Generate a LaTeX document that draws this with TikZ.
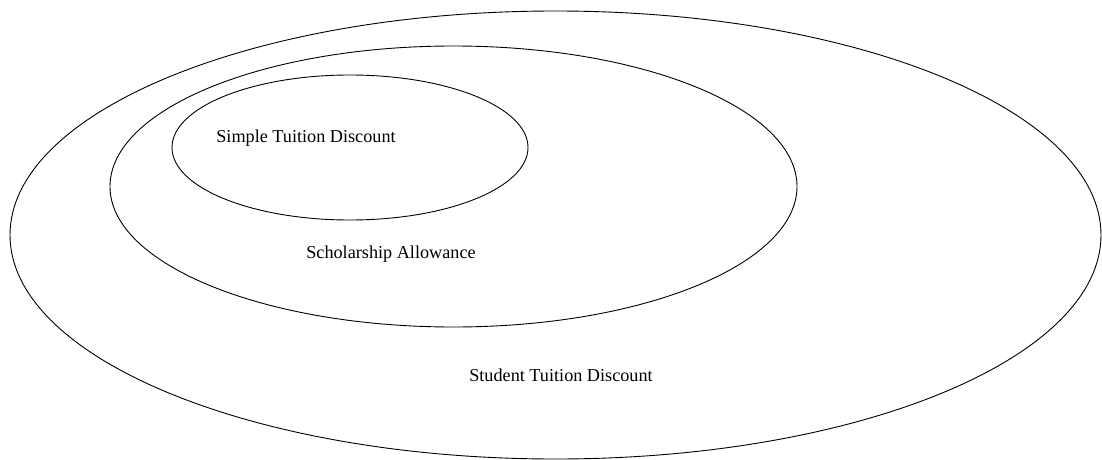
\documentclass[tikz,border=0pt]{standalone}
\usepackage{fontspec}
\setmainfont{Liberation Serif}
\usetikzlibrary{positioning}

\begin{document}
\begin{tikzpicture}[x=1pt,y=1pt,yscale=-1,xscale=1]

\useasboundingbox (0,0) rectangle (1102,460);

%Ellipse outer
\draw [line width=0.9]   (555.5,235) ellipse (545.5 and 224) ;
%Ellipse middle
\draw [line width=0.9]   (453.5,186.5) ellipse (343.5 and 140.5) ;
%Ellipse inner
\draw [line width=0.9]   (350,147.5) ellipse (178 and 72.5) ;

% Text Node
\draw (306,138) node (simple) [inner sep=0.75pt]  [font=\fontsize{18.2}{21}\selectfont] [align=center] {Simple Tuition Discount};
% Text Node
\draw (391,254) node (scholar) [inner sep=0.75pt]  [font=\fontsize{18.2}{21}\selectfont] [align=center] {Scholarship Allowance};
% Text Node
\draw (561,375) node (student) [inner sep=0.75pt]  [font=\fontsize{18.2}{21}\selectfont] [align=center] {Student Tuition Discount};

\end{tikzpicture}
\end{document}
